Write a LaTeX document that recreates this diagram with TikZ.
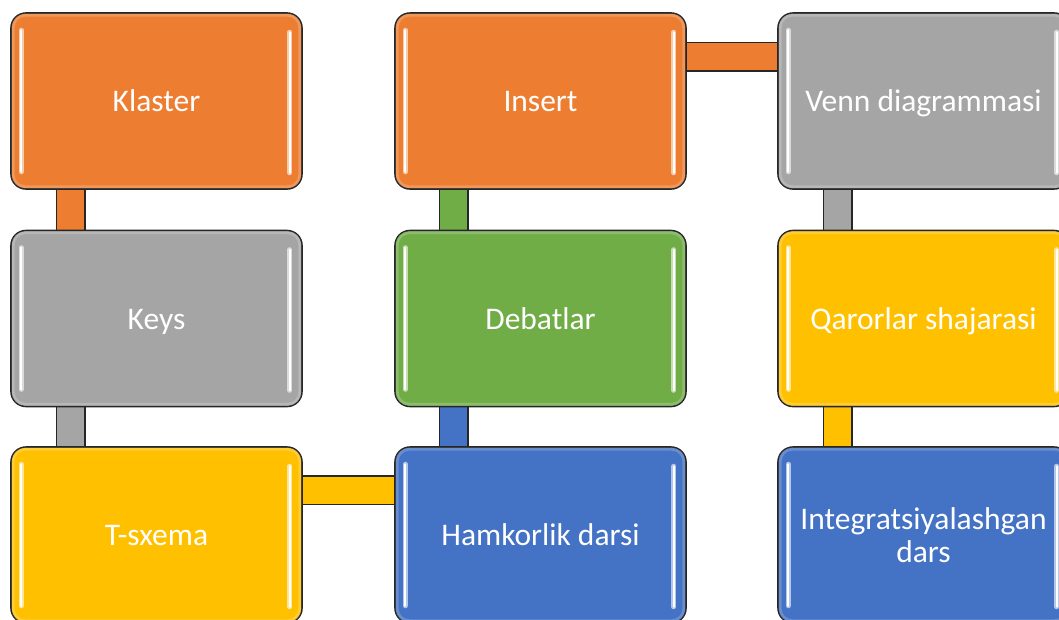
\documentclass[tikz,border=0pt]{standalone}
\usepackage{fontspec}
\setmainfont{Carlito}
\usetikzlibrary{backgrounds}
\definecolor{cOrange}{HTML}{ED7D31}
\definecolor{cGray}{HTML}{A5A5A5}
\definecolor{cYellow}{HTML}{FFC000}
\definecolor{cGreen}{HTML}{70AD47}
\definecolor{cBlue}{HTML}{4472C4}
\definecolor{cEdge}{HTML}{262626}
\tikzset{
  box/.style={draw=cEdge, line width=1.6pt, rounded corners=15pt,
    minimum width=291pt, minimum height=176pt, inner sep=0pt,
    text=white, font=\fontsize{31.5}{33}\selectfont, align=center},
  oneline/.style={text height=21pt, text depth=0pt},
  bar/.style={draw=cEdge, line width=1.5pt, double=#1, double distance=27pt, line cap=butt},
  rim/.style={line width=3pt, rounded corners=12pt, opacity=0.45},
  glowline/.style={line width=5pt, line cap=round},
  coreline/.style={line width=1.8pt, white, line cap=round}
}
\newcommand{\gloss}[2]{%
  \draw[rim, draw=#2!55!white] ([shift={(3pt,-3pt)}]#1.north west) rectangle ([shift={(-3pt,3pt)}]#1.south east);
  \draw[glowline, #2!40!white] ([xshift=11pt,yshift=-18pt]#1.north west) -- ([xshift=11pt,yshift=18pt]#1.south west);
  \draw[coreline] ([xshift=11pt,yshift=-18pt]#1.north west) -- ([xshift=11pt,yshift=18pt]#1.south west);
  \draw[glowline, #2!40!white] ([xshift=-13pt,yshift=-20pt]#1.north east) -- ([xshift=-13pt,yshift=17pt]#1.south east);
  \draw[coreline] ([xshift=-13pt,yshift=-20pt]#1.north east) -- ([xshift=-13pt,yshift=17pt]#1.south east);
}
\begin{document}
\begin{tikzpicture}[x=1pt,y=-1pt]
\useasboundingbox (0,0) rectangle (1059,619);
% boxes
\node[box, oneline, fill=cOrange] (klaster) at (156.5,101) {Klaster};
\node[box, oneline, fill=cGray]   (keys)    at (156.5,318.5) {Keys};
\node[box, oneline, fill=cYellow] (tsxema)  at (156.5,535) {T-sxema};
\node[box, oneline, fill=cOrange] (insert)  at (540.5,101) {Insert};
\node[box, oneline, fill=cGreen]  (debat)   at (540.5,318.5) {Debatlar};
\node[box, oneline, fill=cBlue]   (hamkor)  at (540.5,535) {Hamkorlik darsi};
\node[box, oneline, fill=cGray]   (venn)    at (923.5,101) {Venn diagrammasi};
\node[box, oneline, fill=cYellow] (qaror)   at (923.5,318.5) {Qarorlar shajarasi};
\node[box, fill=cBlue]   (integ)   at (923.5,535) {Integratsiyalashgan\\dars};
% gloss highlights
\gloss{klaster}{cOrange}
\gloss{keys}{cGray}
\gloss{tsxema}{cYellow}
\gloss{insert}{cOrange}
\gloss{debat}{cGreen}
\gloss{hamkor}{cBlue}
\gloss{venn}{cGray}
\gloss{qaror}{cYellow}
\gloss{integ}{cBlue}
% connectors
\begin{scope}[on background layer]
\fill[white] (0,0) rectangle (1059,619);
\draw[bar=cOrange] ([xshift=60.5pt]klaster.south west) -- ([xshift=60.5pt]keys.north west);
\draw[bar=cGray]   ([xshift=60.5pt]keys.south west) -- ([xshift=60.5pt]tsxema.north west);
\draw[bar=cYellow] ([yshift=-44pt]tsxema.north east) -- ([yshift=-44pt]hamkor.north west);
\draw[bar=cBlue]   ([xshift=59.5pt]hamkor.north west) -- ([xshift=59.5pt]debat.south west);
\draw[bar=cGreen]  ([xshift=59.5pt]debat.north west) -- ([xshift=59.5pt]insert.south west);
\draw[bar=cOrange] ([yshift=-44.5pt]insert.north east) -- ([yshift=-44.5pt]venn.north west);
\draw[bar=cGray]   ([xshift=60.5pt]venn.south west) -- ([xshift=60.5pt]qaror.north west);
\draw[bar=cYellow] ([xshift=60.5pt]qaror.south west) -- ([xshift=60.5pt]integ.north west);
\end{scope}
\end{tikzpicture}
\end{document}
